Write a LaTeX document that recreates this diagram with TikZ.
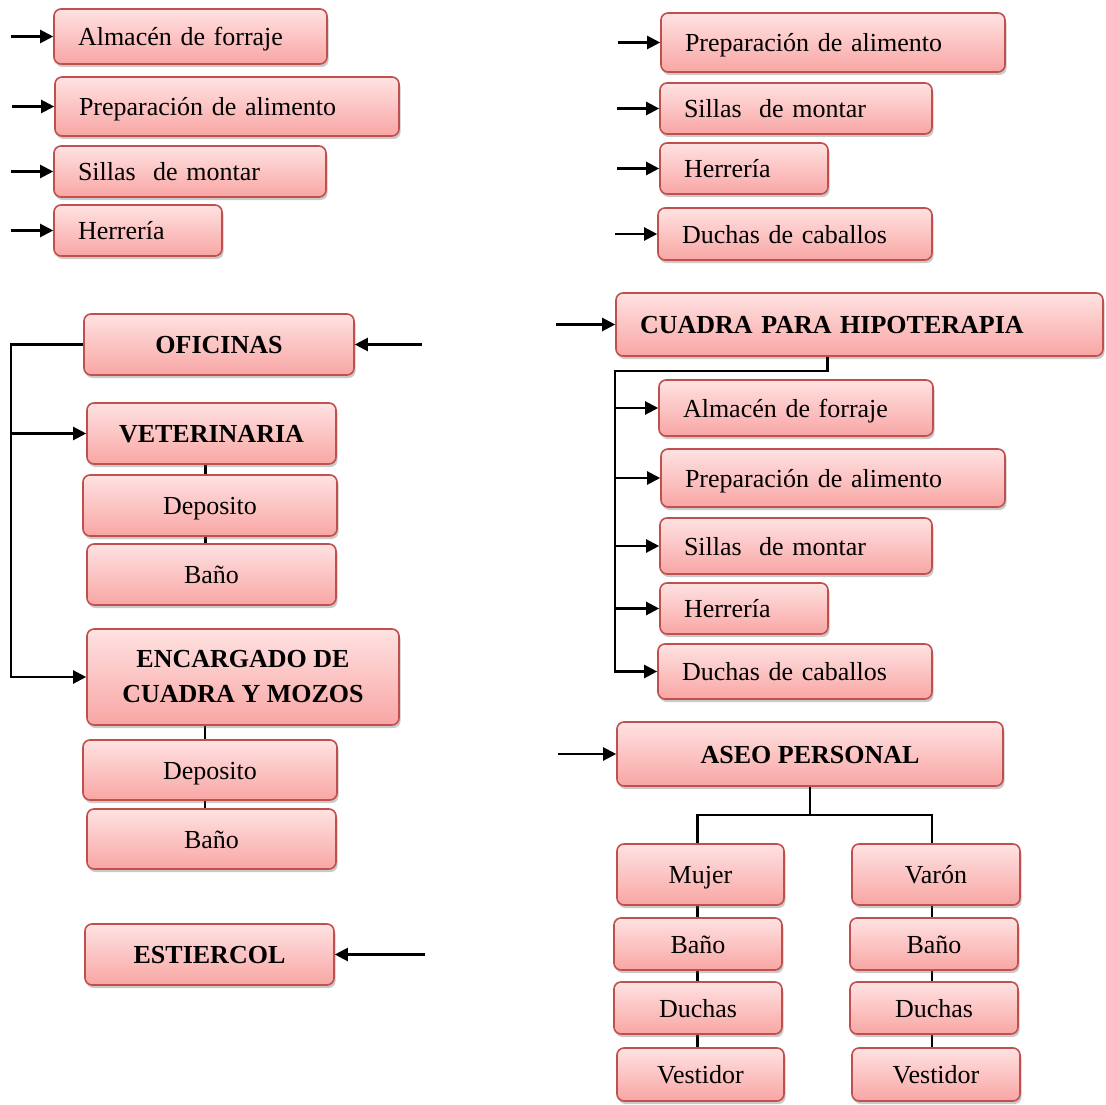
\documentclass[tikz,border=0pt]{standalone}
\usepackage{fontspec}
\setmainfont{Liberation Serif}
\usetikzlibrary{arrows.meta, shadows, backgrounds}
\definecolor{boxedge}{HTML}{C0504D}
\definecolor{boxtop}{HTML}{FFE2E2}
\definecolor{boxbot}{HTML}{F8A6A4}

\tikzset{
  box/.style={rounded corners=7pt, draw=boxedge, line width=1.6pt,
    top color=boxtop, bottom color=boxbot, inner sep=0pt,
    text height=20pt, text depth=2pt,
    drop shadow={shadow xshift=1.5pt, shadow yshift=-3pt, opacity=0.35, fill=black!60}},
  lbox/.style={box, align=left, inner xsep=24pt},
  cbox/.style={box, align=center},
  hbox/.style={cbox, font=\fontsize{26}{35}\selectfont\bfseries},
  arr/.style={-{Triangle[length=13pt,width=13pt]}, line width=2.2pt},
  link/.style={line width=2.2pt}
}

\begin{document}
\begin{tikzpicture}[x=1pt, y=-1pt, font=\fontsize{26}{35}\selectfont]
    \useasboundingbox (0,0) rectangle (1106,1105);

    % top left list
    \node[lbox, text width=225pt, minimum height=55pt] (a1) at (190.5,36.5) {Almacén de forraje};
    \node[lbox, text width=296pt, minimum height=59pt] (a2) at (227,106.5) {Preparación de alimento};
    \node[lbox, text width=224pt, minimum height=51pt] (a3) at (190,171.5) {Sillas\ \ de montar};
    \node[lbox, text width=120pt, minimum height=51pt] (a4) at (138,230.5) {Herrería};
    \foreach \n in {a1,a2,a3,a4}
      \draw[arr] ([xshift=-42pt]\n.west) -- (\n.west);

    % top right list
    \node[lbox, text width=296pt, minimum height=59pt] (b1) at (833,42.5) {Preparación de alimento};
    \node[lbox, text width=224pt, minimum height=51pt] (b2) at (796,108.5) {Sillas\ \ de montar};
    \node[lbox, text width=120pt, minimum height=51pt] (b3) at (744,168.5) {Herrería};
    \node[lbox, text width=226pt, minimum height=52pt] (b4) at (795,234) {Duchas de caballos};
    \foreach \n in {b1,b2,b3,b4}
      \draw[arr] ([xshift=-42pt]\n.west) -- (\n.west);

    % oficinas and veterinaria
    \node[hbox, minimum width=270pt, minimum height=61pt] (ofi) at (219,344.5) {OFICINAS};
    \node[hbox, minimum width=249pt, minimum height=61pt] (vet) at (211.5,433.5) {VETERINARIA};
    \node[cbox, minimum width=254pt, minimum height=61pt] (dep1) at (210,505.5) {Deposito};
    \node[cbox, minimum width=249pt, minimum height=61pt] (ban1) at (211.5,574.5) {Baño};
    \node[hbox, text height=, text depth=, minimum width=312pt, minimum height=96pt] (enc) at (243,677) {ENCARGADO DE\\CUADRA Y MOZOS};
    \node[cbox, minimum width=254pt, minimum height=60pt] (dep2) at (210,770) {Deposito};
    \node[cbox, minimum width=249pt, minimum height=60pt] (ban2) at (211.5,839) {Baño};
    \node[hbox, minimum width=249pt, minimum height=61pt] (est) at (209.5,954.5) {ESTIERCOL};

    \coordinate (lbus) at ([xshift=-75pt]enc.west);
    \draw[arr] ([xshift=67pt]ofi.east) -- (ofi.east);
    \draw[arr] ([xshift=90pt]est.east) -- (est.east);
    \draw[arr] (ofi.west) -| (lbus) -- (enc.west);
    \draw[arr] (lbus |- vet.west) -- (vet.west);
    \begin{scope}[on background layer]
      \draw[link] ([xshift=-6pt]vet.south) -- ([xshift=-6pt]vet.south |- ban1.north);
      \draw[link] ([xshift=-38pt]enc.south) -- ([xshift=-38pt]enc.south |- ban2.north);
    \end{scope}

    % cuadra para hipoterapia
    \node[lbox, text width=439pt, minimum height=63pt, font=\fontsize{26}{35}\selectfont\bfseries] (cua) at (859.5,324.5) {CUADRA PARA HIPOTERAPIA};
    \node[lbox, text width=226pt, minimum height=56pt] (c1) at (796,408) {Almacén de forraje};
    \node[lbox, text width=296pt, minimum height=58pt] (c2) at (833,478) {Preparación de alimento};
    \node[lbox, text width=224pt, minimum height=56pt] (c3) at (796,546) {Sillas\ \ de montar};
    \node[lbox, text width=120pt, minimum height=51pt] (c4) at (744,608.5) {Herrería};
    \node[lbox, text width=226pt, minimum height=55pt] (c5) at (795,671.5) {Duchas de caballos};

    \coordinate (rbus) at (615,371);
    \draw[arr] ([xshift=-59pt]cua.west) -- (cua.west);
    \draw[arr] ([xshift=-32pt]cua.south) |- (rbus) |- (c5.west);
    \foreach \n in {c1,c2,c3,c4}
      \draw[arr] (rbus |- \n.west) -- (\n.west);

    % aseo personal
    \node[hbox, minimum width=386pt, minimum height=64pt] (ase) at (810,754) {ASEO PERSONAL};
    \node[cbox, minimum width=167pt, minimum height=61pt] (muj) at (700.5,874.5) {Mujer};
    \node[cbox, minimum width=168pt, minimum height=52pt] (mb) at (698,944) {Baño};
    \node[cbox, minimum width=168pt, minimum height=52pt] (md) at (698,1008) {Duchas};
    \node[cbox, minimum width=167pt, minimum height=53pt] (mv) at (700.5,1074.5) {Vestidor};
    \node[cbox, minimum width=168pt, minimum height=61pt] (var) at (936,874.5) {Varón};
    \node[cbox, minimum width=168pt, minimum height=52pt] (vb) at (934,944) {Baño};
    \node[cbox, minimum width=168pt, minimum height=52pt] (vd) at (934,1008) {Duchas};
    \node[cbox, minimum width=168pt, minimum height=53pt] (vv) at (936,1074.5) {Vestidor};

    \draw[arr] ([xshift=-58pt]ase.west) -- (ase.west);
    \coordinate (split) at ([yshift=-28pt]ase.south);
    \draw[link] (ase.south) -- (split) -| ([xshift=-3pt]muj.north);
    \draw[link] (split) -| ([xshift=-4pt]var.north);
    \begin{scope}[on background layer]
      \draw[link] ([xshift=-3pt]muj.south) -- ([xshift=-3pt]muj.south |- mv.north);
      \draw[link] ([xshift=-4pt]var.south) -- ([xshift=-4pt]var.south |- vv.north);
    \end{scope}
\end{tikzpicture}
\end{document}
